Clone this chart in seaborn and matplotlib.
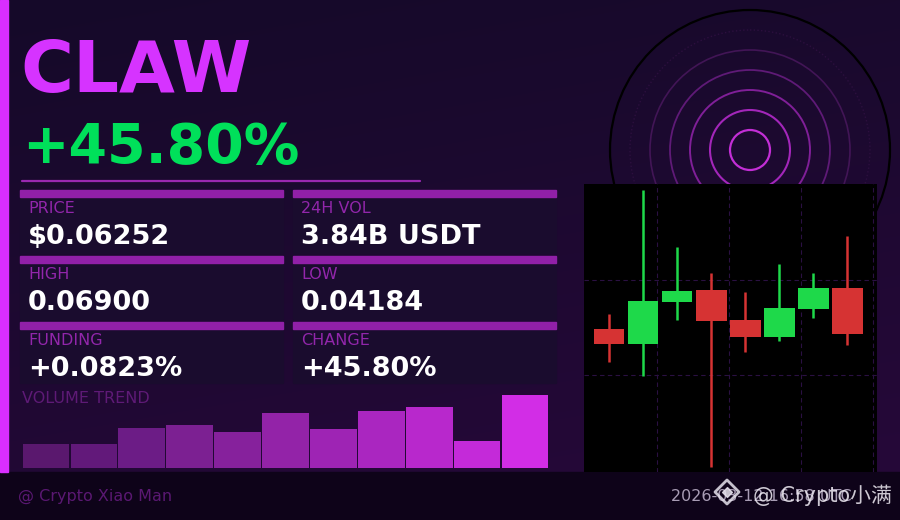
import numpy as np
import pandas as pd
import matplotlib
matplotlib.use("Agg")
import matplotlib.pyplot as plt
from matplotlib.patches import Rectangle, Circle
import seaborn as sns

# ---------------- data ----------------
symbol = "CLAW"
change_text = "+45.80%"
card_labels = ["PRICE", "24H VOL", "HIGH", "LOW", "FUNDING", "CHANGE"]
card_values = ["$0.06252", "3.84B USDT", "0.06900", "0.04184", "+0.0823%", "+45.80%"]

volume_labels = [f"v{i}" for i in range(11)]
volume_values = [0.33, 0.33, 0.55, 0.59, 0.49, 0.75, 0.53, 0.78, 0.84, 0.37, 1.00]
volume_colors = ["#5a186e", "#62197a", "#6c1c86", "#7c2092", "#86219c", "#9323a8",
                 "#9e24b4", "#aa26c0", "#b828cc", "#c42ad9", "#d22de6"]

candle_idx = [0, 1, 2, 3, 4, 5, 6, 7]
c_open  = [0.05537, 0.05390, 0.05802, 0.05920, 0.05625, 0.05459, 0.05733, 0.05939]
c_close = [0.05390, 0.05812, 0.05910, 0.05616, 0.05459, 0.05743, 0.05939, 0.05488]
c_high  = [0.05684, 0.06900, 0.06341, 0.06086, 0.05900, 0.06174, 0.06086, 0.06449]
c_low   = [0.05214, 0.05076, 0.05625, 0.04184, 0.05312, 0.05419, 0.05645, 0.05380]

footer_left = "@ Crypto Xiao Man"
footer_date = "2026-03-12 16:58 UTC"
watermark = "@ Crypto小满"

# ---------------- style ----------------
sns.set_style("dark")
plt.rcParams["font.family"] = ["DejaVu Sans", "Noto Sans CJK SC"]

W, H = 900, 520
fig = plt.figure(figsize=(9, 5.2), dpi=100)

def fx(x): return x / W
def fy(y): return 1 - y / H

# background axes in pixel coordinates
bg = fig.add_axes([0, 0, 1, 1], zorder=0)
bg.set_xlim(0, W)
bg.set_ylim(H, 0)
bg.axis("off")

# gradient background
top = np.array([0x15, 0x0a, 0x29]) / 255
bot = np.array([0x26, 0x08, 0x39]) / 255
yy, xx = np.mgrid[0:1:200j, 0:1:300j]
t = np.clip(0.75 * yy + 0.25 * xx, 0, 1)[..., None]
grad = top * (1 - t) + bot * t
bg.imshow(grad, extent=[0, W, 472, 0], aspect="auto", zorder=0, interpolation="bicubic")
bg.set_xlim(0, W)
bg.set_ylim(H, 0)

# footer band
bg.add_patch(Rectangle((0, 472), W, 48, color="#0e0319", zorder=1))
# left accent bar
bg.add_patch(Rectangle((0, 0), 8, 472, color="#d92eff", zorder=2))

# concentric circles
circ_specs = [(20, "#c32ed6", 1.6, "-"), (40, "#a326ba", 1.5, "-"), (60, "#801f98", 1.4, "-"),
              (80, "#5f1a77", 1.3, "-"), (100, "#421556", 1.2, "-"), (120, "#2c0f3e", 1.0, ":"),
              (140, "#000000", 1.6, "-")]
for r, c, lw, ls in circ_specs:
    bg.add_patch(Circle((750, 150), r, fill=False, edgecolor=c, lw=lw, ls=ls, zorder=2))

# title texts
bg.text(20, 92, symbol, color="#d633ff", fontsize=52, fontweight="bold", va="baseline", ha="left", zorder=3)
bg.text(22, 163, change_text, color="#00e05a", fontsize=40, fontweight="bold", va="baseline", ha="left", zorder=3)
bg.plot([22, 420], [181, 181], color="#9a28b0", lw=1.6, zorder=3)

# cards
rows = [(190, 256), (256, 322), (322, 388)]
cols = [(20, 283), (293, 556)]
k = 0
for ri, (y0, y1) in enumerate(rows):
    for ci, (x0, x1) in enumerate(cols):
        body_bot = y1 - 3 if ri < 2 else 383
        bg.add_patch(Rectangle((x0, y0), x1 - x0, body_bot - y0, color="#1a0c2e", zorder=2))
        bg.add_patch(Rectangle((x0, y0), x1 - x0, 7, color="#9120a8", zorder=3))
        tx = x0 + 8
        bg.text(tx, y0 + 23, card_labels[k], color="#9226ab", fontsize=11.5, va="baseline", ha="left", zorder=4)
        bg.text(tx, y0 + 54, card_values[k], color="white", fontsize=19.5, fontweight="bold",
                va="baseline", ha="left", zorder=4)
        k += 1

bg.text(22, 403, "VOLUME TREND", color="#5e1a76", fontsize=11.5, va="baseline", ha="left", zorder=3)

# footer texts
bg.text(18, 501, footer_left, color="#5a1872", fontsize=11.5, va="baseline", ha="left", zorder=3)
bg.text(852, 501, footer_date, color="#a89cb4", fontsize=11.5, va="baseline", ha="right", zorder=3)
bg.scatter([727], [492], marker="D", s=150, facecolor="none", edgecolor="#e8e4ee", lw=2, zorder=4, alpha=0.85)
bg.scatter([727], [492], marker="D", s=25, color="#e8e4ee", zorder=4, alpha=0.85)
bg.text(892, 502, watermark, color="#f0ecf4", alpha=0.85, fontsize=15, va="baseline", ha="right",
        zorder=4, family=["DejaVu Sans", "Noto Sans CJK SC"])

# ---------------- volume bars ----------------
axv = fig.add_axes([fx(22), fy(468), fx(549) - fx(22), fy(395) - fy(468)], zorder=2)
axv.patch.set_alpha(0)
vdf = pd.DataFrame({"k": volume_labels, "v": volume_values})
sns.barplot(data=vdf, x="k", y="v", hue="k", palette=volume_colors, legend=False,
            width=0.975, saturation=1, ax=axv, linewidth=0)
axv.set_xlim(-0.5, 10.5)
axv.set_ylim(0, 1.0)
axv.axis("off")

# ---------------- candlestick ----------------
axc = fig.add_axes([fx(584), fy(472), fx(877) - fx(584), fy(184) - fy(472)], zorder=3)
axc.set_facecolor("black")
up, down = "#1ed94a", "#d63333"
cols_c = [up if c >= o else down for o, c in zip(c_open, c_close)]
axc.vlines(candle_idx, c_low, c_high, colors=cols_c, lw=1.8, zorder=2)
bottoms = [min(o, c) for o, c in zip(c_open, c_close)]
heights = [abs(c - o) for o, c in zip(c_open, c_close)]
axc.bar(candle_idx, heights, bottom=bottoms, width=0.91, color=cols_c, zorder=3, linewidth=0)
axc.set_xlim(-0.735, 7.88)
axc.set_ylim(0.04135, 0.06959)
axc.set_xticks([1.41, 3.53, 5.65, 7.76])
axc.set_yticks([0.05086, 0.06018])
axc.tick_params(length=0, labelbottom=False, labelleft=False)
axc.grid(True, color="#2a1042", lw=0.8, ls=(0, (4, 3)))
for s in axc.spines.values():
    s.set_visible(False)

fig.savefig("out.png", dpi=100, facecolor="#150a29")
